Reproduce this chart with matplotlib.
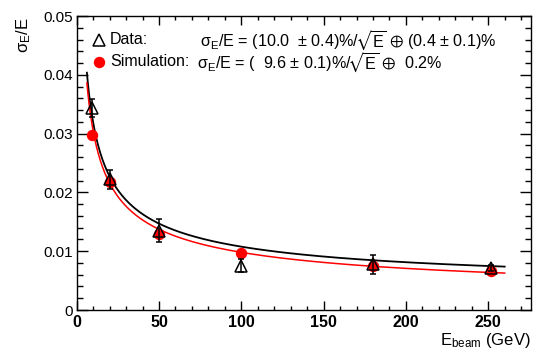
import matplotlib
matplotlib.use('Agg')
import matplotlib.pyplot as plt
import numpy as np
from matplotlib.ticker import MultipleLocator, FixedLocator

plt.rcParams['font.family'] = ['Liberation Sans', 'DejaVu Sans']
plt.rcParams['mathtext.fontset'] = 'custom'
plt.rcParams['mathtext.rm'] = 'Liberation Sans'
plt.rcParams['mathtext.it'] = 'Liberation Sans:italic'
plt.rcParams['mathtext.sf'] = 'Liberation Sans'
plt.rcParams['mathtext.bf'] = 'Liberation Sans:bold'
plt.rcParams['mathtext.fallback'] = 'stixsans'

# ---- data ----
energy_data = [9, 20, 50, 100, 180, 252]
res_data = [0.0343, 0.0222, 0.0135, 0.0075, 0.0078, 0.0071]
err_data = [0.0015, 0.0016, 0.0020, 0.0011, 0.0016, 0.0005]

energy_sim = [9, 20, 50, 100, 180, 252]
res_sim = [0.0298, 0.0218, 0.0130, 0.0097, 0.0075, 0.0067]

# fit parameters (percent): stochastic, constant
fit_data = [10.0, 0.4]
fit_sim = [9.6, 0.2]
fit_range = [6.2, 260]

xticks = [0, 50, 100, 150, 200, 250]
yticks = [0, 0.01, 0.02, 0.03, 0.04, 0.05]
ytick_labels = ['0', '0.01', '0.02', '0.03', '0.04', '0.05']

W, H = 533, 349
fig = plt.figure(figsize=(W / 100, H / 100), dpi=100)
ax = fig.add_axes([76.7 / W, 1 - 310 / H, (531 - 76.7) / W, (310 - 16) / H])

E = np.linspace(fit_range[0], fit_range[1], 400)
def reso(E, p):
    return np.sqrt((p[0] / 100) ** 2 / E + (p[1] / 100) ** 2)

ax.plot(E, reso(E, fit_data), color='black', lw=1.3, zorder=2)
ax.plot(E, reso(E, fit_sim), color='red', lw=1.1, zorder=2)

ax.plot(energy_sim, res_sim, 'o', color='red', ms=7.2, mec='red', zorder=3)
ax.errorbar(energy_data, res_data, yerr=err_data, fmt='^', ms=8,
            mfc='none', mec='black', mew=1.1, ecolor='black', elinewidth=1.1,
            capsize=2.2, capthick=1.1, zorder=4)

ax.set_xlim(0, 276)
ax.set_ylim(0, 0.05)
ax.xaxis.set_major_locator(FixedLocator(xticks))
ax.xaxis.set_minor_locator(MultipleLocator(10))
ax.yaxis.set_major_locator(FixedLocator(yticks))
ax.yaxis.set_minor_locator(MultipleLocator(0.002))
ax.set_yticklabels(ytick_labels)
ax.set_xticklabels([str(t) for t in xticks])

ax.tick_params(which='both', direction='in', top=True, right=True, width=1.0)
ax.xaxis.set_tick_params(which='major', length=6.5, pad=3.5)
ax.xaxis.set_tick_params(which='minor', length=3.1)
ax.yaxis.set_tick_params(which='major', length=7.7, pad=3)
ax.yaxis.set_tick_params(which='minor', length=4.3)
for lab in ax.get_xticklabels():
    lab.set_fontweight('bold')
    lab.set_fontsize(11.5)
for lab in ax.get_yticklabels():
    lab.set_fontsize(11)
for s in ax.spines.values():
    s.set_linewidth(1.0)

# axis titles
fig.text(531 / W, 1 - 345 / H, r'E$_{\rm beam}$ (GeV)', ha='right', va='baseline', fontsize=12)
fig.text(24 / W, 1 - 17 / H, r'σ$_{\rm E}$/E', ha='center', va='top', rotation=90, fontsize=12)

# legend / annotations
def px(x, y):
    return (x - 76.7) / (531 - 76.7), (310 - y) / (310 - 16)

ax.plot(*px(99, 40), '^', ms=8, mfc='none', mec='black', mew=1.1, transform=ax.transAxes, clip_on=False)
ax.plot(*px(99, 62), 'o', ms=7.2, color='red', transform=ax.transAxes, clip_on=False)
ax.text(*px(110, 40), 'Data:', transform=ax.transAxes, va='center', ha='left', fontsize=11.5)
ax.text(*px(110, 62), 'Simulation:', transform=ax.transAxes, va='center', ha='left', fontsize=11.5)
f1 = r'σ$_{\rm E}$/E = (10.0  ± 0.4)%/$\!\sqrt{\rm E}$ $\oplus$ (0.4 ± 0.1)%'
f2 = r'σ$_{\rm E}$/E = (  9.6 ± 0.1)%/$\!\sqrt{\rm E}$ $\oplus$  0.2%'
ax.text(*px(200, 41), f1, transform=ax.transAxes, va='center', ha='left', fontsize=11.6)
ax.text(*px(197, 63), f2, transform=ax.transAxes, va='center', ha='left', fontsize=11.6)

fig.savefig('out.png', dpi=100)
